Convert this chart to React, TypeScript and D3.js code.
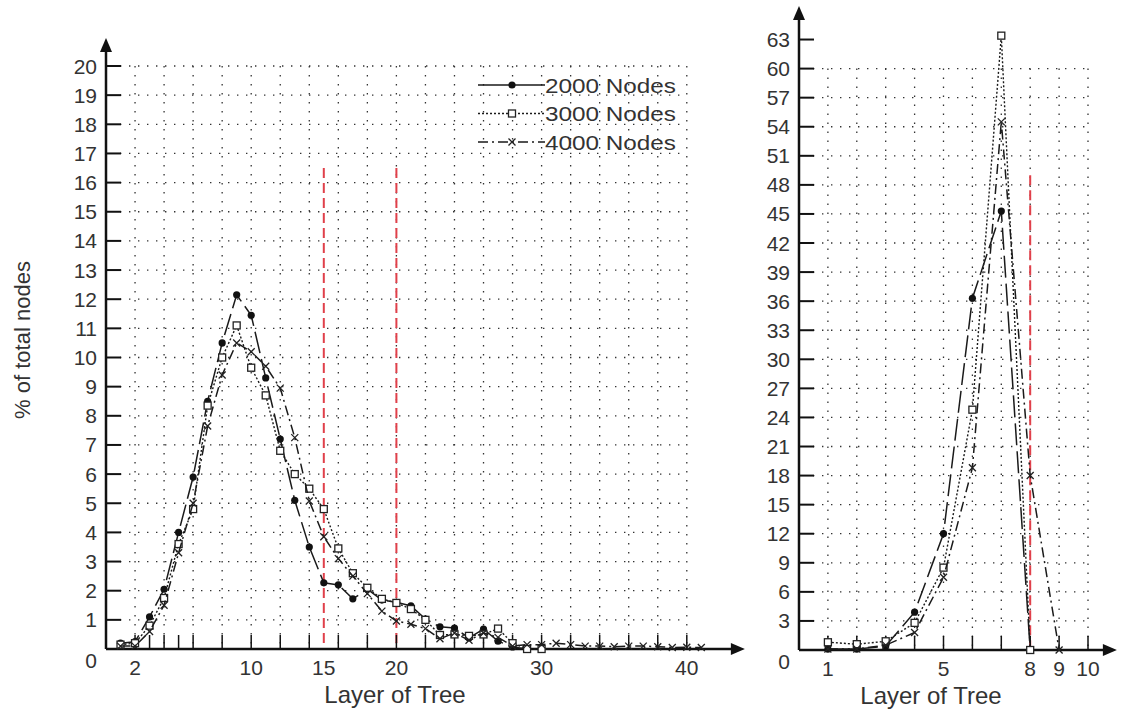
import React, { useEffect, useRef } from 'react';
import * as d3 from 'd3';

// left panel: % of total nodes per layer
const layersL = d3.range(1, 42);
const nodes2000L = [0.2, 0.25, 1.1, 2.05, 4.0, 5.9, 8.5, 10.5, 12.15, 11.45, 9.3, 7.2, 5.1, 3.5, 2.27, 2.2, 1.72, 2.05, 1.68, 1.6, 1.48, 1.03, 0.76, 0.72, 0.38, 0.68, 0.27, 0.07, 0.0];
const nodes3000L = [0.15, 0.2, 0.8, 1.75, 3.6, 4.8, 8.35, 10.0, 11.1, 9.65, 8.7, 6.8, 6.0, 5.5, 4.8, 3.45, 2.6, 2.1, 1.72, 1.58, 1.37, 1.0, 0.48, 0.5, 0.45, 0.5, 0.7, 0.2, 0.0, 0.0];
const nodes4000L = [0.1, 0.1, 0.6, 1.5, 3.3, 5.0, 7.65, 9.4, 10.5, 10.2, 9.7, 8.95, 7.25, 5.08, 3.85, 3.1, 2.5, 1.9, 1.3, 0.96, 0.85, 0.7, 0.35, 0.55, 0.3, 0.55, 0.4, 0.1, 0.15, 0.15, 0.2, 0.15, 0.1, 0.1, 0.08, 0.1, 0.1, 0.08, 0.05, 0.06, 0.05];
const yTicksL = d3.range(0, 21);
const xTicksL = [2, 3, 4, 5, 6, ...d3.range(8, 41, 2)];
const xLabelsL = [2, 10, 15, 20, 30, 40];
const redLinesL = [15, 20];

// right panel
const layersR = d3.range(1, 10);
const nodes2000R = [0.1, 0.1, 0.4, 3.9, 12.0, 36.3, 45.3, 0.0];
const nodes3000R = [0.8, 0.6, 0.9, 2.8, 8.5, 24.8, 63.4, 0.0];
const nodes4000R = [0.1, 0.1, 0.5, 1.8, 7.5, 18.8, 54.5, 18.0, 0.0];
const yTicksR = d3.range(3, 64, 3);
const xTicksR = d3.range(1, 11);
const xLabelsR = [1, 5, 8, 9, 10];
const redLinesR = [8];

const seriesNames = ['2000 Nodes', '3000 Nodes', '4000 Nodes'];

const FONT = '"Liberation Sans", Arial, sans-serif';
const TXT = '#333';
const RED = '#e0404a';
const dashes = ['22,6', '2,2', '10,4,2,4'];

function marker(g: any, kind: number, x: number, y: number) {
  if (kind === 0) {
    g.append('circle').attr('cx', x).attr('cy', y).attr('r', 3.6).attr('fill', '#111');
  } else if (kind === 1) {
    g.append('rect').attr('x', x - 3.5).attr('y', y - 3.5).attr('width', 7).attr('height', 7)
      .attr('fill', 'white').attr('stroke', '#222').attr('stroke-width', 1.3);
  } else {
    g.append('path').attr('d', `M${x - 3.5},${y - 3.5}L${x + 3.5},${y + 3.5}M${x - 3.5},${y + 3.5}L${x + 3.5},${y - 3.5}`)
      .attr('stroke', '#222').attr('stroke-width', 1.3);
  }
}

function drawPanel(svg: any, opts: any) {
  const { x, y, xGrid, yGrid, xTicks, yTicks, xLabels, redLines, redTop, series, xs, arrowTop, title, titleX } = opts;
  const g = svg.append('g');
  const x0 = x(0), y0 = y(0);
  const grid = { stroke: '#333', 'stroke-width': 1.3, 'stroke-dasharray': '1.4,7.6' };

  xGrid.forEach((v: number) => {
    const l = g.append('line').attr('x1', x(v)).attr('x2', x(v)).attr('y1', y(yGrid[yGrid.length - 1])).attr('y2', y0);
    Object.entries(grid).forEach(([k, val]) => l.attr(k, val));
  });
  yGrid.forEach((v: number) => {
    const l = g.append('line').attr('x1', x0 + 14).attr('x2', x(xGrid[xGrid.length - 1])).attr('y1', y(v)).attr('y2', y(v));
    Object.entries(grid).forEach(([k, val]) => l.attr(k, val));
  });

  // red dashed markers
  redLines.forEach((v: number) => {
    g.append('line').attr('x1', x(v)).attr('x2', x(v)).attr('y1', y(redTop)).attr('y2', y0)
      .attr('stroke', RED).attr('stroke-width', 2).attr('stroke-dasharray', '10,5');
  });

  // axes
  const xEnd = x.range()[1];
  g.append('line').attr('x1', x0).attr('x2', xEnd - 8).attr('y1', y0).attr('y2', y0).attr('stroke', '#111').attr('stroke-width', 2.5);
  g.append('path').attr('d', `M${xEnd},${y0}L${xEnd - 14},${y0 - 6}L${xEnd - 14},${y0 + 6}Z`).attr('fill', '#111');
  g.append('line').attr('x1', x0).attr('x2', x0).attr('y1', y0).attr('y2', arrowTop + 8).attr('stroke', '#111').attr('stroke-width', 2.5);
  g.append('path').attr('d', `M${x0},${arrowTop}L${x0 - 6},${arrowTop + 14}L${x0 + 6},${arrowTop + 14}Z`).attr('fill', '#111');

  yTicks.forEach((v: number) => {
    if (v > 0) g.append('line').attr('x1', x0).attr('x2', x0 + 15).attr('y1', y(v)).attr('y2', y(v)).attr('stroke', '#111').attr('stroke-width', 2);
    g.append('text').attr('x', x0 - 9).attr('y', v === 0 ? y0 + 19 : y(v) + 7.5).attr('text-anchor', 'end')
      .attr('font-size', 21).attr('font-family', FONT).attr('fill', TXT).text(v);
  });
  xTicks.forEach((v: number) => {
    g.append('line').attr('x1', x(v)).attr('x2', x(v)).attr('y1', y0).attr('y2', y0 - 14).attr('stroke', '#111').attr('stroke-width', 1.5);
  });
  xLabels.forEach((v: number) => {
    g.append('text').attr('x', x(v)).attr('y', y0 + 26).attr('text-anchor', 'middle')
      .attr('font-size', 21).attr('font-family', FONT).attr('fill', TXT).text(v);
  });
  g.append('text').attr('x', titleX).attr('y', y0 + 54).attr('text-anchor', 'middle')
    .attr('font-size', 24).attr('font-family', FONT).attr('fill', TXT).text(title);

  // series
  series.forEach((vals: number[], i: number) => {
    const pts = vals.map((v, j) => [xs[j], v]);
    const line = d3.line<any>().x((d) => x(d[0])).y((d) => y(d[1]));
    g.append('path').attr('d', line(pts)).attr('fill', 'none').attr('stroke', '#1a1a1a')
      .attr('stroke-width', i === 1 ? 1.4 : 1.5).attr('stroke-dasharray', dashes[i]);
    pts.forEach((p) => marker(g, i, x(p[0]), y(p[1])));
  });
}

const App = () => {
  const ref = useRef<SVGSVGElement>(null);

  useEffect(() => {
    const svg = d3.select(ref.current);
    svg.selectAll('*').remove();

    const xL = d3.scaleLinear().domain([0, 44]).range([106, 106 + 44 * 14.52]);
    const yL = d3.scaleLinear().domain([0, 20]).range([649, 66]);
    drawPanel(svg, {
      x: xL, y: yL, xGrid: d3.range(2, 41, 2), yGrid: d3.range(1, 21), xTicks: xTicksL, yTicks: yTicksL,
      xLabels: xLabelsL, redLines: redLinesL, redTop: 16.5, series: [nodes2000L, nodes3000L, nodes4000L], xs: layersL,
      arrowTop: 38, title: 'Layer of Tree', titleX: 395,
    });

    const xR = d3.scaleLinear().domain([0, 11]).range([799, 799 + 11 * 28.9]);
    const yR = d3.scaleLinear().domain([0, 63]).range([650, 650 - 63 * 9.69]);
    drawPanel(svg, {
      x: xR, y: yR, xGrid: d3.range(1, 11), yGrid: d3.range(3, 61, 3), xTicks: xTicksR, yTicks: [0, ...yTicksR],
      xLabels: xLabelsR, redLines: redLinesR, redTop: 49, series: [nodes2000R, nodes3000R, nodes4000R], xs: layersR,
      arrowTop: 6, title: 'Layer of Tree', titleX: 931,
    });

    // y title
    svg.append('text').attr('transform', 'translate(30,340) rotate(-90)').attr('text-anchor', 'middle')
      .attr('font-size', 22).attr('font-family', FONT).attr('fill', TXT).text('% of total nodes');

    // legend
    const lg = svg.append('g');
    seriesNames.forEach((name, i) => {
      const ly = 85 + i * 28.5;
      lg.append('line').attr('x1', 478).attr('x2', 545).attr('y1', ly).attr('y2', ly)
        .attr('stroke', '#1a1a1a').attr('stroke-width', 1.5).attr('stroke-dasharray', i === 0 ? null : dashes[i]);
      marker(lg, i, 512, ly);
      lg.append('text').attr('x', 545).attr('y', ly + 7.5).attr('font-size', 21).attr('font-family', FONT).attr('fill', TXT)
        .attr('textLength', 131).attr('lengthAdjust', 'spacingAndGlyphs').text(name);
    });
  }, []);

  return (
    <svg ref={ref} width={1127} height={717} style={{ position: 'absolute', left: 0, top: 0, background: 'white' }} />
  );
};

export default App;
